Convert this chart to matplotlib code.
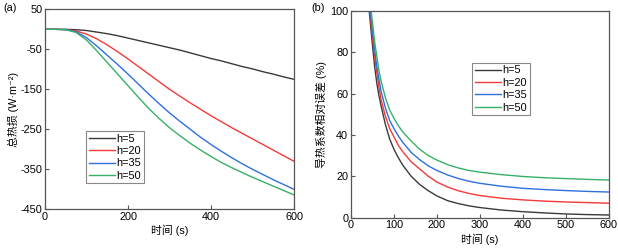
import matplotlib
matplotlib.use("Agg")
import matplotlib.pyplot as plt

plt.rcParams['font.family'] = ['Liberation Sans', 'Noto Sans CJK SC', 'DejaVu Sans']
plt.rcParams['axes.unicode_minus'] = False

labels = ['h=5', 'h=20', 'h=35', 'h=50']
colors = ['#3a3a3a', '#f23a3a', '#2f6fe0', '#36b068']

# Panel (a): total heat loss
t_a = [0, 25, 50, 75, 100, 125, 150, 175, 200, 225, 250, 275, 300,
       325, 350, 375, 400, 425, 450, 475, 500, 525, 550, 575, 600]
loss_h5 = [0, 0, 0, -1, -3, -7, -11, -16, -22, -28, -34, -40, -46,
           -52, -59, -66, -73, -79, -86, -93, -99, -106, -112, -119, -125]
loss_h20 = [0, 0, -1, -4, -12, -24, -39, -56, -74, -93, -112, -131, -150,
            -167, -184, -200, -216, -231, -246, -260, -274, -288, -302, -316, -330]
loss_h35 = [0, 0, -1, -6, -21, -42, -65, -88, -112, -137, -162, -186, -209,
            -230, -250, -270, -288, -305, -321, -336, -350, -363, -376, -388, -400]
loss_h50 = [0, 0, -1, -8, -27, -54, -83, -112, -141, -170, -198, -223, -246,
            -266, -285, -302, -318, -333, -346, -358, -370, -381, -392, -403, -414]

# Panel (b): relative error of thermal conductivity (%)
t_b = [40, 45, 50, 55, 60, 65, 70, 80, 90, 100, 110, 120, 140, 160, 180, 200,
       225, 250, 275, 300, 350, 400, 450, 500, 550, 600]
err_h5 = [105, 94, 83, 73, 65, 59, 54, 45, 38, 33, 29, 25.5, 20, 16, 13, 10.5,
          8.2, 6.8, 5.7, 4.9, 3.7, 2.9, 2.3, 1.8, 1.5, 1.3]
err_h20 = [107, 97, 87, 78, 70, 63, 57, 49, 43, 39, 35, 32, 27, 23.5, 20, 17.2,
           14.8, 13, 11.7, 10.7, 9.4, 8.6, 8.0, 7.6, 7.3, 7.0]
err_h35 = [110, 99, 90, 81, 73, 67, 61, 53, 47, 43, 39.5, 36.5, 31.5, 28, 25, 22.8,
           20.6, 18.9, 17.6, 16.6, 15.2, 14.2, 13.6, 13.1, 12.7, 12.4]
err_h50 = [114, 103, 94, 85, 78, 71, 66, 58, 52, 48, 44.5, 41.5, 37, 33, 30, 27.8,
           25.6, 24, 22.8, 22, 20.8, 19.9, 19.3, 18.9, 18.5, 18.2]

xticks_a = [0, 200, 400, 600]
yticks_a = [50, -50, -150, -250, -350, -450]
xticks_b = [0, 100, 200, 300, 400, 500, 600]
yticks_b = [0, 20, 40, 60, 80, 100]

fig = plt.figure(figsize=(6.18, 2.5), dpi=100)
ax1 = fig.add_axes([45/618, 1-209.3/250, 249/618, 200/250])
ax2 = fig.add_axes([351/618, 1-217.7/250, 258/618, 207/250])

spine_c = '#555555'
fs = 7.8

for series, lab, c in zip([loss_h5, loss_h20, loss_h35, loss_h50], labels, colors):
    ax1.plot(t_a, series, color=c, lw=1.0, label=lab)
for series, lab, c in zip([err_h5, err_h20, err_h35, err_h50], labels, colors):
    ax2.plot(t_b, series, color=c, lw=1.0, label=lab)

ax1.set_xlim(0, 600)
ax1.set_ylim(-450, 50)
ax1.set_xticks(xticks_a)
ax1.set_yticks(yticks_a)
ax1.set_xlabel('时间 (s)', fontsize=fs, labelpad=2)
ax1.set_ylabel('总热损 (W·m⁻²)', fontsize=fs, labelpad=1)

ax2.set_xlim(0, 600)
ax2.set_ylim(0, 100)
ax2.set_xticks(xticks_b)
ax2.set_yticks(yticks_b)
ax2.set_xlabel('时间 (s)', fontsize=fs, labelpad=2)
ax2.set_ylabel('导热系数相对误差 (%)', fontsize=fs, labelpad=2)

for ax in (ax1, ax2):
    for s in ax.spines.values():
        s.set_color(spine_c)
        s.set_linewidth(0.9)
    ax.tick_params(direction='in', length=3, width=0.8, color=spine_c,
                   labelsize=fs, pad=2)

leg_kw = dict(fontsize=fs, frameon=True, fancybox=False, handlelength=2.4,
              handletextpad=0.15, borderpad=0.25, labelspacing=0.22,
              borderaxespad=0, framealpha=1)
l1 = ax1.legend(loc='upper left', bbox_to_anchor=(0.165, 0.392), **leg_kw)
l2 = ax2.legend(loc='upper left', bbox_to_anchor=(0.469, 0.749), **leg_kw)
for l in (l1, l2):
    l.get_frame().set_edgecolor('#888888')
    l.get_frame().set_linewidth(0.8)

fig.text(3/618, 1-8/250, '(a)', fontsize=fs, va='center', ha='left')
fig.text(311/618, 1-8/250, '(b)', fontsize=fs, va='center', ha='left')

fig.savefig('out.png', dpi=100)
